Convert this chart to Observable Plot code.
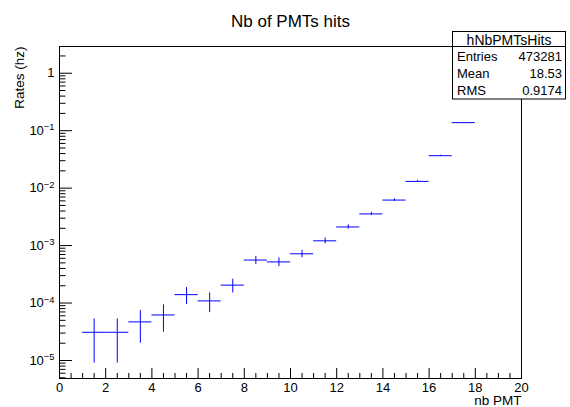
<!DOCTYPE html>
<html><head><meta charset="utf-8">
<script src="https://cdn.jsdelivr.net/npm/d3@7"></script>
<script src="https://cdn.jsdelivr.net/npm/@observablehq/plot@0.6"></script>
<style>body{margin:0;background:#fff}</style>
</head><body><div id="chart"></div>
<script>
// Histogram bins (nb PMT)
const binLow  = [1, 2, 3, 4, 5, 6, 7, 8, 9, 10, 11, 12, 13, 14, 15, 16, 17];
const binHigh = [2, 3, 4, 5, 6, 7, 8, 9, 10, 11, 12, 13, 14, 15, 16, 17, 18];
// Rates (hz) and their errors
const rates  = [3.1e-5, 3.1e-5, 4.7e-5, 6.2e-5, 1.4e-4, 1.09e-4, 2.05e-4, 5.6e-4, 5.2e-4, 7.2e-4, 1.21e-3, 2.11e-3, 3.56e-3, 6.2e-3, 1.31e-2, 3.67e-2, 0.138];
const errors = [2.2e-5, 2.2e-5, 2.7e-5, 3.1e-5, 4.6e-5, 4.1e-5, 5.5e-5, 9.0e-5, 9.0e-5, 1.05e-4, 1.4e-4, 1.8e-4, 2.4e-4, 3.1e-4, 4.5e-4, 7.5e-4, 1.5e-3];
// Axis ticks
const xMajorTicks = [0, 2, 4, 6, 8, 10, 12, 14, 16, 18, 20];
const xMinorTicks = [0.5, 1, 1.5, 2.5, 3, 3.5, 4.5, 5, 5.5, 6.5, 7, 7.5, 8.5, 9, 9.5, 10.5, 11, 11.5, 12.5, 13, 13.5, 14.5, 15, 15.5, 16.5, 17, 17.5, 18.5, 19, 19.5];
const yMajorTicks = [1e-5, 1e-4, 1e-3, 1e-2, 1e-1, 1];
const yMinorMultipliers = [2, 3, 4, 5, 6, 7, 8, 9];
const yMinorDecades = [1e-6, 1e-5, 1e-4, 1e-3, 1e-2, 1e-1, 1];
const yTickLabels = ["10^-5", "10^-4", "10^-3", "10^-2", "10^-1", "1"];
// Texts
const chartTitle = "Nb of PMTs hits";
const xTitle = "nb PMT";
const yTitle = "Rates (hz)";
const statsName = "hNbPMTsHits";
const statsLabels = ["Entries", "Mean", "RMS"];
const statsValues = ["473281", "18.53", "0.9174"];

const yDomain = [4.86e-6, 2.92];
const yMinorTicks = yMinorDecades.flatMap(d => yMinorMultipliers.map(m => m * d))
  .filter(v => v >= yDomain[0] && v <= yDomain[1]);

const bins = rates.map((r, i) => ({lo: binLow[i], hi: binHigh[i], x: (binLow[i] + binHigh[i]) / 2, y: r, e: errors[i]}));

const font = "'Liberation Sans', Arial, Helvetica, sans-serif";
const blue = "#0000ff";

const plot = Plot.plot({
  width: 570, height: 407,
  marginLeft: 59, marginRight: 49, marginTop: 46, marginBottom: 29,
  style: {fontFamily: font, fontSize: "13px", background: "white", color: "black", overflow: "visible"},
  x: {domain: [0, 20]},
  y: {type: "log", domain: yDomain},
  marks: [
    Plot.ruleY(bins, {y: "y", x1: "lo", x2: "hi", stroke: blue, strokeWidth: 1}),
    Plot.ruleX(bins, {x: "x", y1: d => d.y - d.e, y2: d => d.y + d.e, stroke: blue, strokeWidth: 1}),
    Plot.axisX(xMajorTicks, {tickSize: -10, tickFormat: () => "", label: null}),
    Plot.axisX(xMinorTicks, {tickSize: -5, tickFormat: () => "", label: null}),
    Plot.axisX(xMajorTicks, {tickSize: 0, tickPadding: 4, fontSize: 13, label: null, tickFormat: d => String(d)}),
    Plot.axisY(yMajorTicks, {tickSize: -13, tickFormat: () => "", label: null}),
    Plot.axisY(yMinorTicks, {tickSize: -6.5, tickFormat: () => "", label: null}),
    Plot.axisY(yMajorTicks, {tickSize: 0, tickPadding: 5, fontSize: 13, label: null,
      tickFormat: d => yTickLabels[yMajorTicks.indexOf(d)]}),
    Plot.frame({stroke: "black", strokeWidth: 1}),
    Plot.text([chartTitle], {frameAnchor: "top", dy: -20, fontSize: 17, lineAnchor: "bottom"}),
    Plot.text([xTitle], {frameAnchor: "bottom-right", textAnchor: "end", dy: 26, fontSize: 13.5, lineAnchor: "bottom"}),
    Plot.text([yTitle], {frameAnchor: "top-left", rotate: -90, textAnchor: "end", dx: -36, fontSize: 13.5, lineAnchor: "bottom"})
  ]
});

document.getElementById("chart").appendChild(plot);
const svg = d3.select(plot);

// superscripts for the log labels
svg.selectAll("text").each(function() {
  const t = d3.select(this);
  const s = t.text();
  if (s.startsWith("10^")) {
    const exp = s.slice(3).replace("-", "\u2212");
    t.text("10");
    t.append("tspan").attr("dy", "-0.5em").attr("font-size", "0.72em").text(exp);
  }
});

// statistics box
const sb = svg.append("g").attr("font-family", font).attr("font-size", 13).attr("text-anchor", "start");
sb.append("rect").attr("x", 452.5).attr("y", 31.5).attr("width", 113).attr("height", 67.5)
  .attr("fill", "white").attr("stroke", "black");
sb.append("line").attr("x1", 452.5).attr("x2", 565.5).attr("y1", 46.5).attr("y2", 46.5).attr("stroke", "black");
sb.append("text").attr("x", 509).attr("y", 44.5).attr("text-anchor", "middle").attr("font-size", 14).text(statsName);
statsLabels.forEach((l, i) => {
  const yb = 61 + i * 16.8;
  sb.append("text").attr("x", 457).attr("y", yb).attr("text-anchor", "start").text(l);
  sb.append("text").attr("x", 562).attr("y", yb).attr("text-anchor", "end").text(statsValues[i]);
});
</script>
</body></html>
